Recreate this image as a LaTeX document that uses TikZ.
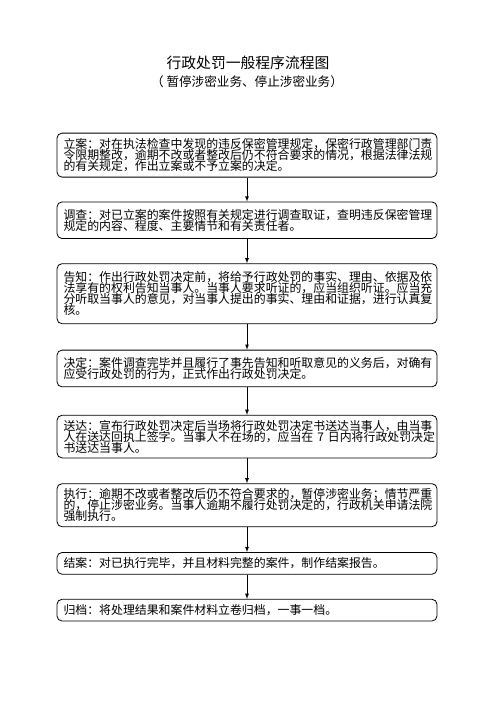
\documentclass[tikz,border=0pt]{standalone}
\usepackage{fontspec}
\setmainfont{Noto Sans CJK SC}
\usetikzlibrary{positioning}
\lineskiplimit=-20pt
\newcommand{\stepfont}{\fontsize{11.9}{10.9}\selectfont\lineskiplimit=-20pt\relax}

\begin{document}
\begin{tikzpicture}[x=1pt, y=-1pt,
    procbox/.style={draw, rectangle, rounded corners=5pt, line width=0.8pt, align=left,
        text width=367pt, inner xsep=6.5pt, inner ysep=3pt, font=\stepfont},
    flow/.style={-latex, line width=0.8pt}]
    \useasboundingbox (0,0) rectangle (496,702);
    \node (title) at (248,63) {\fontsize{14.8}{16}\selectfont 行政处罚一般程序流程图};
    \node (subtitle) at (247,82) {\fontsize{12.6}{14}\selectfont （~暂停涉密业务、停止涉密业务）};
    \node[procbox, anchor=north, minimum height=44pt] (lian) at (247,132.7) {立案：对在执法检查中发现的违反保密管理规定，保密行政管理部门责\\令限期整改，逾期不改或者整改后仍不符合要求的情况，根据法律法规\\的有关规定，作出立案或不予立案的决定。};
    \node[procbox, below=24pt of lian, minimum height=36.6pt] (diaocha) {调查：对已立案的案件按照有关规定进行调查取证，查明违反保密管理\\规定的内容、程度、主要情节和有关责任者。};
    \node[procbox, below=24.4pt of diaocha, minimum height=60pt] (gaozhi) {告知：作出行政处罚决定前，将给予行政处罚的事实、理由、依据及依\\法享有的权利告知当事人。当事人要求听证的，应当组织听证。应当充\\分听取当事人的意见，对当事人提出的事实、理由和证据，进行认真复\\核。};
    \node[procbox, below=25.6pt of gaozhi, minimum height=36.7pt] (jueding) {决定：案件调查完毕并且履行了事先告知和听取意见的义务后，对确有\\应受行政处罚的行为，正式作出行政处罚决定。};
    \node[procbox, below=27.7pt of jueding, minimum height=42.6pt] (songda) {送达：宣布行政处罚决定后当场将行政处罚决定书送达当事人，由当事\\人在送达回执上签字。当事人不在场的，应当在~7~日内将行政处罚决定\\书送达当事人。};
    \node[procbox, below=25pt of songda, minimum height=43pt] (zhixing) {执行：逾期不改或者整改后仍不符合要求的，暂停涉密业务；情节严重\\的，停止涉密业务。当事人逾期不履行处罚决定的，行政机关申请法院\\强制执行。};
    \node[procbox, below=25pt of zhixing, minimum height=21.7pt] (jiean) {结案：对已执行完毕，并且材料完整的案件，制作结案报告。};
    \node[procbox, below=24.3pt of jiean, minimum height=21.7pt] (guidang) {归档：将处理结果和案件材料立卷归档，一事一档。};
    \draw[flow] (lian) -- (diaocha);
    \draw[flow] (diaocha) -- (gaozhi);
    \draw[flow] (gaozhi) -- (jueding);
    \draw[flow] (jueding) -- (songda);
    \draw[flow] (songda) -- (zhixing);
    \draw[flow] (zhixing) -- (jiean);
    \draw[flow] (jiean) -- (guidang);
\end{tikzpicture}
\end{document}
